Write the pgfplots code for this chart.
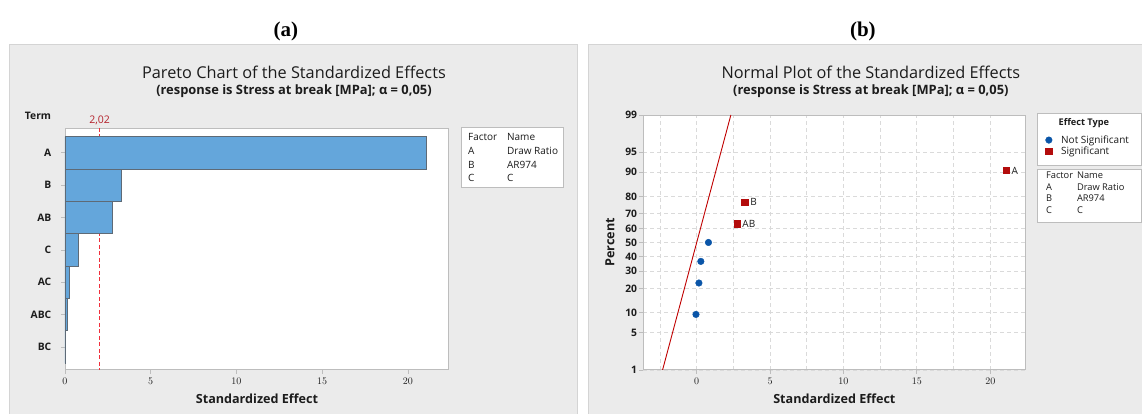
\documentclass[border=0pt]{standalone}
\usepackage{pgfplots}
\pgfplotsset{compat=1.18}
\usepackage{fontspec}
\setmainfont{Open Sans}
\newfontfamily\panelfont{Liberation Serif}

\definecolor{panelbg}{HTML}{EBEBEB}
\definecolor{panelrule}{HTML}{D4D4D4}
\definecolor{barblue}{HTML}{64A6DB}
\definecolor{baredge}{HTML}{5E6A76}
\definecolor{refred}{HTML}{F0303C}
\definecolor{labred}{HTML}{B3202A}
\definecolor{ptblue}{HTML}{0A55A8}
\definecolor{ptred}{HTML}{B30C0C}
\definecolor{fitred}{HTML}{C00000}
\definecolor{framegray}{HTML}{BDBDBD}
\definecolor{gridgray}{HTML}{DADADA}
\definecolor{txt}{HTML}{1C1C1C}

\newcommand\tickfont{\bfseries\fontsize{10.3}{12}\selectfont}
\newcommand\labelfont{\bfseries\fontsize{12.6}{15}\selectfont}

\pgfplotsset{
  minitab/.style={
    scale only axis, anchor=south west, clip=false,
    axis background/.style={fill=white},
    axis line style={framegray, line width=0.9pt},
    tick pos=left,
    tick align=outside, major tick length=4pt, minor tick length=0pt,
    tick style={framegray, line width=0.8pt},
    ticklabel style={font=\tickfont, text=txt},
    xticklabel style={anchor=north, inner sep=1pt, yshift=-2.5pt},
  },
}

\begin{document}
\begin{tikzpicture}
% page and the two grey panels
\fill[white] (0pt,0pt) rectangle (1142pt,-414pt);
\fill[panelbg] (9pt,-44pt) rectangle (578pt,-414pt);
\draw[panelrule] (9.5pt,-414pt) -- (9.5pt,-44.5pt) -- (577.5pt,-44.5pt) -- (577.5pt,-414pt);
\fill[panelbg] (588pt,-44pt) rectangle (1142pt,-414pt);
\draw[panelrule] (588.5pt,-414pt) -- (588.5pt,-44.5pt) -- (1142pt,-44.5pt);

% panel letters
\node[font=\panelfont\bfseries\fontsize{21}{23}\selectfont] at (286pt,-31pt) {(a)};
\node[font=\panelfont\bfseries\fontsize{21}{23}\selectfont] at (863pt,-31pt) {(b)};

% titles
\node[text=txt, font=\fontsize{16.3}{18}\selectfont] at (294pt,-72pt) {Pareto Chart of the Standardized Effects};
\node[text=txt, font=\bfseries\fontsize{12.9}{15}\selectfont] at (294pt,-91pt) {(response is Stress at break [MPa]; α = 0,05)};
\node[text=txt, font=\fontsize{16.3}{18}\selectfont] at (871pt,-72pt) {Normal Plot of the Standardized Effects};
\node[text=txt, font=\bfseries\fontsize{12.9}{15}\selectfont] at (871pt,-91pt) {(response is Stress at break [MPa]; α = 0,05)};

% ---------------- Pareto chart ----------------
\begin{axis}[minitab,
  at={(65pt,-370pt)}, width=384pt, height=242pt,
  xmin=0, xmax=22.39, ymin=-0.77, ymax=6.71, y dir=reverse,
  xtick={0,5,10,15,20},
  ytick={0,...,6}, yticklabels={A,B,AB,C,AC,ABC,BC},
  yticklabel style={anchor=east, inner sep=1pt, xshift=-8.5pt},
]
% critical value 2,02, drawn first so that the bars cover it
\addplot[color=refred, line width=1.3pt, dash pattern=on 4pt off 2.5pt, mark=none, forget plot]
  coordinates {(2.02,-0.77) (2.02,6.71)};
\addplot[xbar, bar width=1, fill=barblue, draw=baredge, line width=0.8pt]
  coordinates {(21.08,0) (3.28,1) (2.74,2) (0.79,3) (0.26,4) (0.15,5) (0.05,6)};
\node[labred, anchor=south, inner sep=1pt, yshift=2pt, font=\fontsize{10.5}{12}\selectfont]
  at (axis cs:2.02,-0.77) {2,02};
\end{axis}
\node[text=txt, font=\bfseries\fontsize{10.3}{12}\selectfont] at (38pt,-116pt) {Term};
\node[text=txt, font=\labelfont] at (257pt,-399pt) {Standardized Effect};

% factor key, left
\draw[framegray, fill=white] (461pt,-127pt) rectangle (563pt,-187pt);
\begin{scope}[every node/.style={anchor=west, inner sep=0pt, text=txt, font=\fontsize{10}{11}\selectfont}]
\node at (468pt,-137.5pt) {Factor}; \node at (507pt,-137.5pt) {Name};
\node at (468pt,-151pt) {A};        \node at (507pt,-151pt) {Draw Ratio};
\node at (468pt,-164.5pt) {B};      \node at (507pt,-164.5pt) {AR974};
\node at (468pt,-178pt) {C};        \node at (507pt,-178pt) {C};
\end{scope}

% ---------------- normal plot ----------------
\draw[framegray, fill=white] (1037.5pt,-113.7pt) rectangle (1141.5pt,-165pt);
\node[text=txt, font=\bfseries\fontsize{9.2}{11}\selectfont] at (1084pt,-123.3pt) {Effect Type};
\begin{axis}[minitab,
  at={(643.4pt,-370pt)}, width=382.1pt, height=255pt,
  xmin=-3.64, xmax=22.39, ymin=-2.3263, ymax=2.3263,
  xtick={0,5,10,15,20}, minor xtick={-2.5,2.5,7.5,12.5,17.5},
  ytick={-2.3263,-1.6449,-1.2816,-0.8416,-0.5244,-0.2533,0,0.2533,0.5244,0.8416,1.2816,1.6449,2.3263},
  yticklabels={1,5,10,20,30,40,50,60,70,80,90,95,99},
  yticklabel style={anchor=east, inner sep=1pt, xshift=-1pt},
  grid=both, grid style={gridgray, line width=0.8pt, dash pattern=on 4pt off 3pt},
  legend style={at={(1.0446,0.936)}, anchor=north west, draw=none, fill=none,
    font=\fontsize{10}{11}\selectfont, text=txt, row sep=-2pt,
    /tikz/every odd column/.append style={column sep=7pt}},
  legend cell align=left,
  legend image code/.code={\draw[#1] plot coordinates {(0pt,0pt)};},
]
\addplot[fitred, line width=0.9pt] coordinates {(-2.3263,-2.3263) (2.3263,2.3263)};
\addplot[only marks, mark=*, mark size=3.3pt, ptblue]
  coordinates {(-0.05,-1.3132) (0.15,-0.7397) (0.28,-0.3455) (0.80,0)};
\addplot[only marks, mark=square*, mark size=3.2pt, ptred,
  nodes near coords, point meta=explicit symbolic,
  nodes near coords style={anchor=west, xshift=2pt, text=txt, font=\fontsize{10}{11}\selectfont}]
  coordinates {(2.74,0.3455)[AB] (3.28,0.7397)[B] (21.08,1.3132)[A]};
\legend{,Not Significant,Significant}
\end{axis}
\node[text=txt, font=\labelfont, rotate=90] at (610pt,-242.5pt) {Percent};
\node[text=txt, font=\labelfont] at (834.5pt,-399pt) {Standardized Effect};

% factor key, right
\draw[framegray, fill=white] (1037.5pt,-169pt) rectangle (1141.5pt,-222.3pt);
\begin{scope}[every node/.style={anchor=west, inner sep=0pt, text=txt, font=\fontsize{9.3}{11}\selectfont}]
\node at (1046pt,-175pt) {Factor}; \node at (1077pt,-175pt) {Name};
\node at (1046pt,-187pt) {A};      \node at (1077pt,-187pt) {Draw Ratio};
\node at (1046pt,-198.5pt) {B};    \node at (1077pt,-198.5pt) {AR974};
\node at (1046pt,-210pt) {C};      \node at (1077pt,-210pt) {C};
\end{scope}
\end{tikzpicture}
\end{document}
